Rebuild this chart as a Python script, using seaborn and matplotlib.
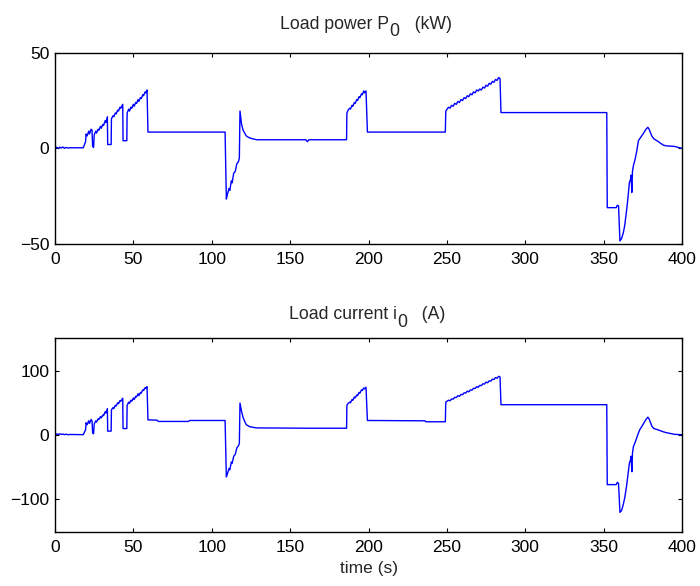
import numpy as np
import pandas as pd
import matplotlib
matplotlib.use('Agg')
import matplotlib.pyplot as plt
import seaborn as sns

sns.set_style("ticks")
plt.rcParams['font.family'] = ['Liberation Sans', 'DejaVu Sans']

# time breakpoints (s)
t = [0, 1, 2, 3, 4, 5, 6, 7, 8, 10, 18, 19.5, 19.8, 20.5, 21.5, 22, 23, 23.6, 24, 24.6,
     25, 26, 26.5, 27.5, 28, 29, 29.5, 30.5, 31, 32, 32.5, 33.4, 33.6, 35.8,
     36, 37, 37.5, 38.5, 39, 40, 40.5, 41.5, 42, 43.2, 43.4, 45.8,
     46, 47, 47.5, 48.5, 49, 50, 50.5, 51.5, 52, 53, 53.5, 54.5, 55, 56, 56.5, 57.5, 58, 58.7,
     59.3, 65, 66, 85, 86, 108.5,
     109.3, 110, 111, 111.5, 112.5, 113, 114, 115, 116, 117, 117.6,
     118, 119, 120, 121, 122, 124, 126, 128.7, 160, 161, 162, 186,
     186.2, 187, 188, 188.5, 189.5, 190, 191, 191.5, 192.5, 193, 194, 194.5, 195.5, 196, 197, 197.5, 198.4,
     199.3, 236, 236.5, 249,
     249.3, 251, 252, 253, 254, 255, 256, 257, 258, 259, 260, 261, 262, 263, 264, 265, 266,
     267, 268, 269, 270, 271, 272, 273, 274, 275, 276, 277, 278, 279, 280, 281, 282, 283, 283.9,
     284.5, 352, 352.3, 358, 358.7, 359.5, 360.4, 361.5, 362.6, 363.5, 364.7, 365.5, 366.4,
     367.2, 367.5, 368, 368.4, 369, 370, 371, 372.2, 373, 374.3, 375.5, 377, 378.2, 379,
     380.7, 382, 384.9, 388, 390, 395.3, 400]

# load power P0 (kW)
p_load = [0.3, 0.6, 0, 0.6, 0.2, 0.7, 0, 0.5, 0.2, 0.3, 0.3, 3.5, 7.5, 6.5, 9, 7.5, 10, 9.5, 1, 0.5,
          7, 9, 8, 10, 9.5, 11.5, 10.5, 12.5, 12, 14.5, 13.5, 16.5, 2, 2,
          15.5, 17, 16.5, 18.5, 18, 20, 19.5, 21.5, 21, 23, 4, 4,
          18.5, 20.5, 19.5, 21.5, 21, 23, 22, 24, 23.5, 25.5, 24.5, 26.5, 26, 28, 27.5, 29.5, 29, 30.5,
          8.5, 8.5, 8.5, 8.5, 8.5, 8.5,
          -26.5, -24, -21, -22, -17, -18, -13, -12, -8, -7, -5,
          19.5, 12.5, 9.5, 8, 6.5, 5.5, 5, 4.5, 4.5, 3.5, 4.5, 4.5,
          18.5, 20, 21, 20.5, 22.5, 22, 24, 23.5, 25.5, 25, 27, 26.5, 28.5, 28, 30, 29, 30,
          8.5, 8.5, 8.5, 8.5,
          19.5, 21.5, 21, 22.5, 22, 23.5, 23, 24.5, 24, 25.5, 25, 26.5, 26, 27.5, 27, 28.5, 28,
          29.5, 29, 30.5, 30, 31, 30.5, 32, 31.5, 33, 32.5, 34, 33.5, 35, 34.5, 36, 35.5, 37, 36.5,
          18.7, 18.7, -31, -31, -29.8, -30, -48.4, -47, -44, -40, -32, -26, -18,
          -16, -14, -23, -12, -9, -6, -2, 4, 5, 6.5, 8, 10, 11, 10,
          6.5, 5, 3.5, 1.7, 1.3, 1, 0]

# load current i0 (A)
i_load = [0.5, 1.5, 1, 1.8, 0.8, 1.5, 0.5, 1.2, 0.5, 0.8, 0.5, 8, 19, 16, 22, 18, 24, 22, 3, 2,
          17, 22, 20, 25, 24, 28.5, 26.5, 31, 30, 36, 34, 41, 6, 6,
          39, 42.5, 41, 46, 45, 50, 48.5, 53.5, 52.5, 57, 10, 10,
          46, 51, 49, 54, 52.5, 57.5, 55, 60, 59, 64, 61, 66, 65, 70, 69, 73.5, 72.5, 75,
          23.5, 23, 21, 21, 22.5, 22.5,
          -65, -60, -52, -54, -42, -44, -33, -30, -20, -17, -13,
          49.5, 36.5, 27, 21, 16, 13, 12, 11, 10.5, 10.5, 10.5, 10.5,
          46, 49, 51, 50, 55, 54, 59, 57.5, 62, 61, 66, 65, 70, 69, 73, 71.5, 74,
          22.5, 22, 20.5, 20.5,
          51, 54, 53, 56, 55.5, 58.5, 58, 61, 60, 63, 62.5, 65.5, 65, 68, 67, 70, 69.5,
          72.5, 72, 75, 74, 77, 76.5, 79.5, 79, 82, 81, 84, 83.5, 86.5, 86, 89, 88, 91, 90,
          47, 47, -77, -77, -73.5, -75, -120, -117, -107, -97, -78, -62, -44,
          -38, -33, -57, -28, -18, -12, -5, 3, 8, 13, 18, 24, 27.6, 25,
          14, 10, 7.8, 5, 3.6, 1, 0.5]

df = pd.DataFrame({'time': t, 'power': p_load, 'current': i_load})

W, H = 700, 586
fig = plt.figure(figsize=(W / 100, H / 100), dpi=100)
ax1 = fig.add_axes([0.0786, 0.5836, 0.8957, 0.3265])
ax2 = fig.add_axes([0.0786, 0.0927, 0.8957, 0.330])

line_color = '#0000ff'
sns.lineplot(data=df, x='time', y='power', ax=ax1, color=line_color, lw=1,
             estimator=None, sort=False)
sns.lineplot(data=df, x='time', y='current', ax=ax2, color=line_color, lw=1,
             estimator=None, sort=False)

ax1.set_ylim(-50, 50)
ax1.set_yticks([-50, 0, 50])
ax2.set_ylim(-150, 150)
ax2.set_yticks([-100, 0, 100])

for ax in (ax1, ax2):
    ax.set_xlim(0, 400)
    ax.set_xticks(np.arange(0, 401, 50))
    ax.set_xlabel('')
    ax.set_ylabel('')
    ax.tick_params(direction='in', top=True, right=True, length=3, width=0.8,
                   labelsize=12.5, colors='black')
    ax.tick_params(axis='x', pad=6)
    ax.tick_params(axis='y', pad=4)
    for s in ax.spines.values():
        s.set_visible(True)
        s.set_linewidth(1.0)
        s.set_color('black')

ax2.set_xlabel('time (s)', fontsize=12.5, labelpad=4)


# MATLAB-style titles: full size subscript, just lowered
def matlab_title(parts, y_px, x_center_px, size=12.7):
    renderer = fig.canvas.get_renderer()
    texts = [fig.text(0, 1 - (y_px + dy) / H, s, fontsize=size, va='baseline', ha='left')
             for s, dy in parts]
    widths = [tx.get_window_extent(renderer).width for tx in texts]
    x = x_center_px - sum(widths) / 2
    for tx, w in zip(texts, widths):
        tx.set_x(x / W)
        x += w


matlab_title([('Load power P', 0), ('0', 7.5), ('   (kW)', 0)], 29, 366)
matlab_title([('Load current i', 0), ('0', 7.5), ('   (A)', 0)], 319.5, 367)

fig.savefig('out.png', dpi=100)
